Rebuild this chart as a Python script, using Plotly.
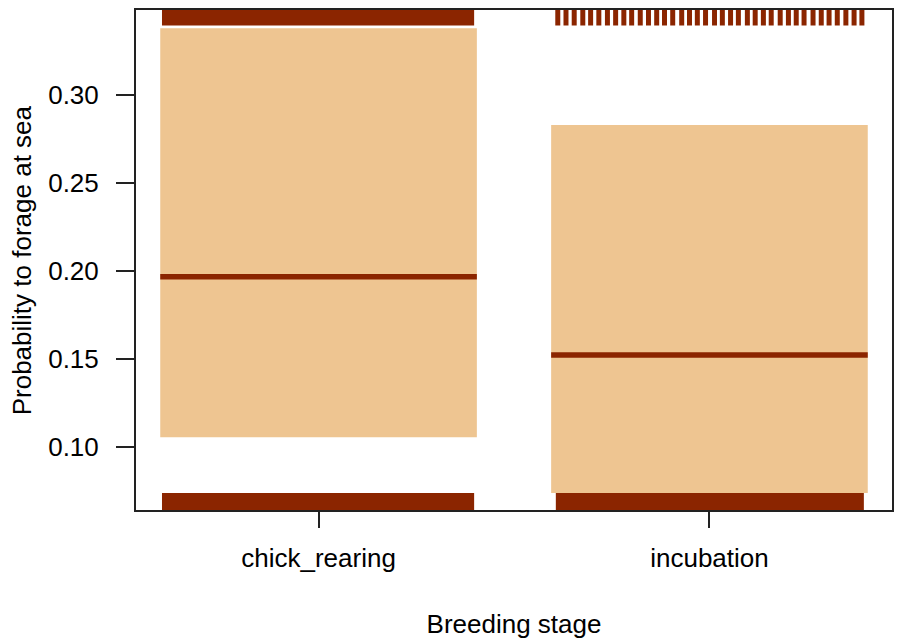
import plotly.graph_objects as go

# ---- data ----
stages = ["chick_rearing", "incubation"]
stage_pos = [0, 1]
fit = [0.1966, 0.152]
upper = [0.3377, 0.2828]
lower = [0.1053, 0.0736]

# rug extents (solid rugs) as offsets from category centre
rug_bottom_lo = [-0.4005, -0.393]
rug_bottom_hi = [0.398, 0.395]
rug_top_chick = (-0.4005, 0.398)
# individual top-rug ticks for incubation (x positions)
rug_top_incub = [0.612, 0.633, 0.654, 0.676, 0.696, 0.717, 0.739, 0.760, 0.781, 0.801,
                 0.823, 0.844, 0.865, 0.885, 0.906, 0.929, 0.949, 0.969, 0.990, 1.013,
                 1.033, 1.054, 1.074, 1.097, 1.117, 1.138, 1.158, 1.181, 1.202, 1.222,
                 1.242, 1.265, 1.286, 1.306, 1.327, 1.349, 1.370, 1.390]

y_ticks = [0.10, 0.15, 0.20, 0.25, 0.30]
y_tick_text = ["0.10", "0.15", "0.20", "0.25", "0.30"]

band_col = "#EEC591"
dark = "#8B2500"
band_half = 0.405
FONT = "Liberation Sans, Arial, sans-serif"

fig = go.Figure()

# confidence bands
fig.add_trace(go.Bar(
    x=stage_pos, base=lower, y=[u - l for u, l in zip(upper, lower)],
    width=2 * band_half, marker=dict(color=band_col, line=dict(width=0)),
    hoverinfo="skip", showlegend=False))

# fitted lines
for p, f in zip(stage_pos, fit):
    fig.add_trace(go.Scatter(
        x=[p - band_half, p + band_half], y=[f, f], mode="lines",
        line=dict(color=dark, width=5.5), showlegend=False, hoverinfo="skip"))

# bottom rugs (solid)
bx = [p + (lo + hi) / 2 for p, lo, hi in zip(stage_pos, rug_bottom_lo, rug_bottom_hi)]
bw = [hi - lo for lo, hi in zip(rug_bottom_lo, rug_bottom_hi)]
fig.add_trace(go.Bar(
    x=bx, base=[0, 0], y=[0.034, 0.034], width=bw, yaxis="y2",
    marker=dict(color=dark, line=dict(width=0)), showlegend=False, hoverinfo="skip"))

# top rug chick (solid)
fig.add_trace(go.Bar(
    x=[stage_pos[0] + (rug_top_chick[0] + rug_top_chick[1]) / 2], base=[0.969], y=[0.031],
    width=[rug_top_chick[1] - rug_top_chick[0]], yaxis="y2",
    marker=dict(color=dark, line=dict(width=0)), showlegend=False, hoverinfo="skip"))

# top rug incubation (individual ticks)
rx, ry = [], []
for v in rug_top_incub:
    rx += [v, v, None]
    ry += [0.969, 1.0, None]
fig.add_trace(go.Scatter(
    x=rx, y=ry, mode="lines", yaxis="y2", line=dict(color=dark, width=5),
    showlegend=False, hoverinfo="skip"))

fig.update_layout(
    width=899, height=641,
    margin=dict(l=136, r=5, t=10, b=131),
    paper_bgcolor="white", plot_bgcolor="white",
    font=dict(family=FONT, size=26, color="black"),
    barmode="overlay",
    xaxis=dict(
        range=[-0.467, 1.467], tickvals=stage_pos, ticktext=stages,
        showgrid=False, zeroline=False, showline=True, mirror=True,
        linecolor="#222", linewidth=2, ticks="outside", ticklen=16, tickwidth=2,
        tickcolor="#222", ticklabelstandoff=8,
        title=dict(text="Breeding stage", standoff=43,
                   font=dict(family=FONT, size=26))),
    yaxis=dict(
        range=[0.0640, 0.3481], tickvals=y_ticks, ticktext=y_tick_text,
        showgrid=False, zeroline=False, showline=True, mirror=True,
        linecolor="#222", linewidth=2, ticks="outside", ticklen=18, tickwidth=2,
        tickcolor="#222", ticklabelstandoff=12),
    yaxis2=dict(range=[0, 1], overlaying="y", visible=False, fixedrange=True),
    annotations=[dict(
        text="Probability to forage at sea", textangle=-90,
        xref="paper", yref="paper", x=(22 - 136) / 758, y=0.5,
        xanchor="center", yanchor="middle", showarrow=False,
        font=dict(family=FONT, size=26, color="black"))],
)

fig.write_html("out.html")
